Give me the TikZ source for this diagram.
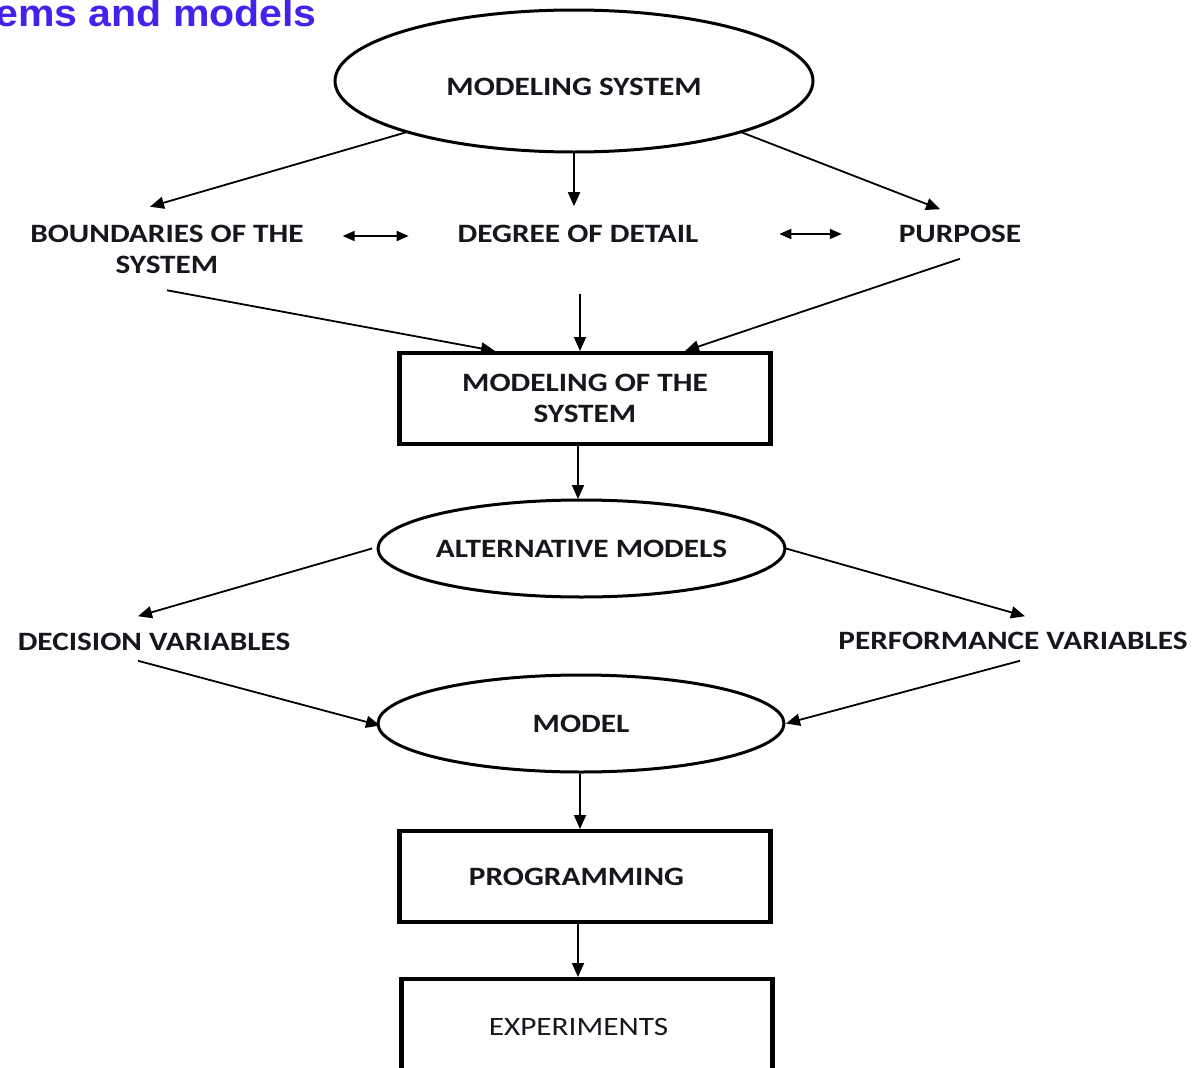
\documentclass[tikz,border=0pt]{standalone}
\usepackage{fontspec}
\setmainfont{Carlito}
\newfontfamily\lblfont[FakeStretch=1.18]{Carlito}
\newfontfamily\headfont[FakeStretch=1.08]{Liberation Sans}
\usetikzlibrary{arrows.meta,calc,shapes.geometric}
\definecolor{headblue}{RGB}{68,34,238}
\definecolor{ink}{RGB}{22,22,28}

\begin{document}
\begin{tikzpicture}[x=1pt,y=-1pt,
  lbl/.style={font=\lblfont\bfseries\fontsize{26.5}{31}\selectfont, text=ink,
              inner sep=0pt, outer sep=0pt, align=center},
  oval/.style={lbl, draw, ellipse, line width=3pt},
  stage/.style={lbl, draw, rectangle, line width=4.5pt,
                minimum width=371pt, minimum height=91pt},
  flow/.style={line width=1.8pt, -{Triangle[length=14pt,width=12pt]}},
  link/.style={line width=1.8pt,
               {Triangle[length=12pt,width=10pt]}-{Triangle[length=12pt,width=10pt]}}]

\useasboundingbox (0,0) rectangle (1200,1068);

% heading
\node[font=\headfont\bfseries\fontsize{38}{44}\selectfont, text=headblue,
      anchor=base east, inner sep=0pt] (head) at (317,26.5) {ems and models};

% nodes
\node[oval, minimum width=478pt, minimum height=142pt] (ms) at (574,81)
  {\makebox[0pt]{\raisebox{-14.4pt}[0pt][0pt]{MODELING SYSTEM}}};

\node[lbl] (bnd) at (167,249) {BOUNDARIES OF THE\\SYSTEM};
\node[lbl] (deg) at (578,234) {DEGREE OF DETAIL};
\node[lbl] (pur) at (960,234) {PURPOSE};

\node[stage] (mos) at (585,398.5) {MODELING OF THE\\SYSTEM};

\node[oval, minimum width=407pt, minimum height=97pt] (alt) at (581.5,548.5)
  {\makebox[0pt]{ALTERNATIVE MODELS}};

\node[lbl] (dec) at (154,642) {DECISION VARIABLES};
\node[lbl] (perf) at (1013,641) {PERFORMANCE VARIABLES};

\node[oval, minimum width=406pt, minimum height=97pt] (model) at (581,723.5)
  {\makebox[0pt]{MODEL}};

\node[stage] (prog) at (585,876.5) {PROGRAMMING\kern17pt};
\node[stage, minimum height=95pt, font=\lblfont\mdseries\fontsize{26.5}{31}\selectfont]
  (exp) at (587,1026.5) {EXPERIMENTS\kern17pt};

% connectors
\draw[flow] (ms.197) -- ($(bnd.north)+(-17,-18)$);
\draw[flow] (ms.south) -- ($(deg.north)+(-4,-19)$);
\draw[flow] (ms.343) -- ($(pur.north)+(-20,-16)$);

\draw[link] ($(bnd.east)+(39,-13)$) -- ($(deg.west)+(-49,2)$);
\draw[link] ($(deg.east)+(81,0)$) -- ($(pur.west)+(-57,0)$);

\draw[flow] ($(bnd.south)+(0,17)$) -- ($(mos.north)+(-90,-2)$);
\draw[flow] ($(deg.south)+(2,51)$) -- ($(mos.north)+(-5,-2)$);
\draw[flow] ($(pur.south)+(0,16)$) -- ($(mos.north)+(100,-2)$);

\draw[flow] ($(mos.south)+(-7,2)$) -- ($(alt.north)+(-3.5,-1)$);

\draw[flow] ($(alt.west)+(-6,0)$) -- ($(dec.north)+(-16,-17)$);
\draw[flow] ($(alt.east)+(1,0)$) -- ($(perf.north)+(12,-16)$);

\draw[flow] ($(dec.south)+(-16,10)$) -- ($(model.west)+(2,2)$);
\draw[flow] ($(perf.south)+(7,11)$) -- ($(model.east)+(2,0)$);

\draw[flow] ($(model.south)+(-1,1.5)$) -- ($(prog.north)+(-5,-2)$);
\draw[flow] ($(prog.south)+(-7,2)$) -- ($(exp.north)+(-9,-2)$);

\end{tikzpicture}
\end{document}
